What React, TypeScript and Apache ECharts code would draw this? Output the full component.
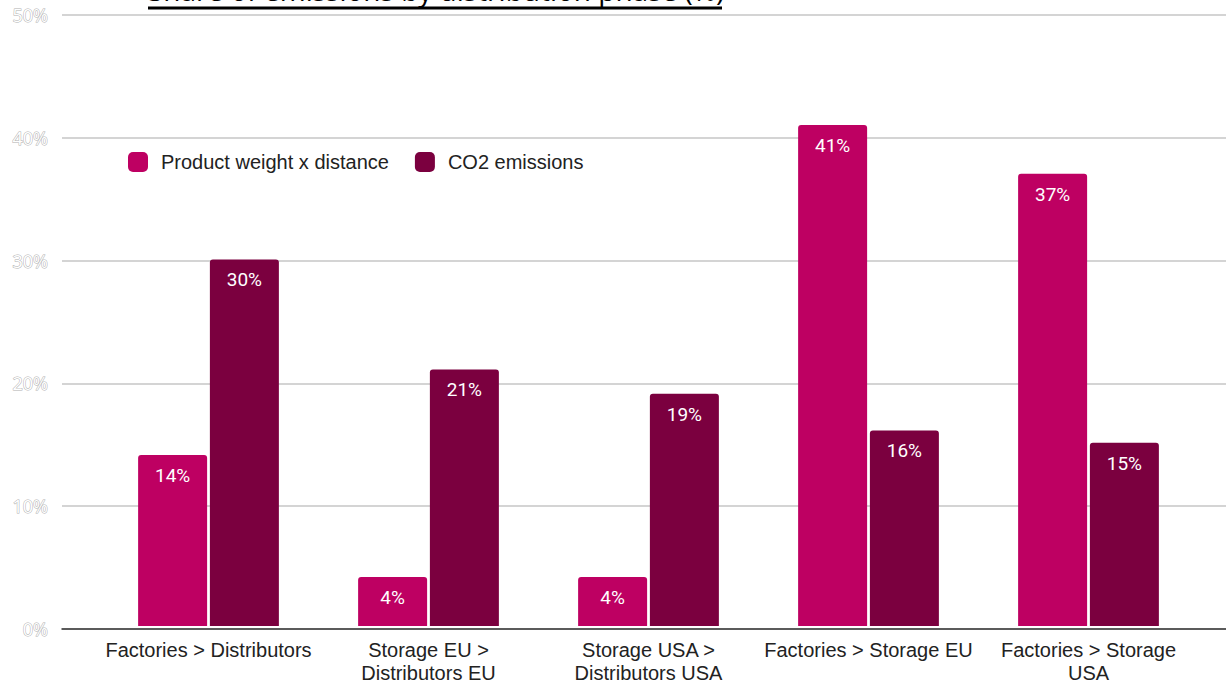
import React, { useEffect, useRef } from "react";
import * as echarts from "echarts";

const categories = [
  "Factories > Distributors",
  "Storage EU >\nDistributors EU",
  "Storage USA >\nDistributors USA",
  "Factories > Storage EU",
  "Factories > Storage\nUSA",
];
const weightDistance = [14, 4, 4, 41, 37];
const co2Emissions = [30, 21, 19, 16, 15];
const seriesNames = ["Product weight x distance", "CO2 emissions"];
const titleText = "Share of emissions by distribution phase (%)";

export default function App() {
  const ref = useRef<HTMLDivElement>(null);
  useEffect(() => {
    if (!ref.current) return;
    const chart = echarts.init(ref.current, undefined, { renderer: "svg" });
    const labelStyle = {
      show: true,
      position: "insideTop" as const,
      distance: 11,
      color: "#ffffff",
      fontFamily: "Roboto",
      fontSize: 19,
      formatter: "{c}%",
    };
    chart.setOption({
      animation: false,
      backgroundColor: "#ffffff",
      grid: [
        { left: 62, right: 0, top: 15, bottom: 55 },
        { left: 98.5, width: 1100, top: 15, bottom: 55 },
      ],
      legend: {
        left: 123,
        top: 147,
        itemWidth: 20,
        itemHeight: 20,
        itemGap: 26,
        icon: "roundRect",
        textStyle: {
          fontFamily: "Liberation Sans",
          fontSize: 20,
          color: "#222",
          padding: [0, 0, 0, 8],
        },
        data: seriesNames,
      },
      xAxis: [
        {
          type: "value",
          gridIndex: 0,
          min: 0,
          max: 1,
          axisLine: { show: true, onZero: true, lineStyle: { color: "#333", width: 1.5 } },
          axisTick: { show: false },
          axisLabel: { show: false },
          splitLine: { show: false },
        },
        {
          type: "category",
          gridIndex: 1,
          data: categories,
          axisLine: { show: false },
          axisTick: { show: false },
          axisLabel: {
            margin: 12,
            fontFamily: "Liberation Sans",
            fontSize: 20,
            color: "#222",
            lineHeight: 23,
            interval: 0,
          },
        },
      ],
      yAxis: [
        {
          type: "value",
          gridIndex: 0,
          min: 0,
          max: 50,
          interval: 10,
          axisLine: { show: false },
          axisTick: { show: false },
          axisLabel: {
            formatter: "{value}%",
            margin: 14,
            fontFamily: "Open Sans",
            fontSize: 18,
            color: "#ffffff",
            textBorderColor: "#b0b0b0",
            textBorderWidth: 1,
          },
          splitLine: { show: true, lineStyle: { color: "#c6c6c6", width: 1.5 } },
        },
        {
          type: "value",
          gridIndex: 1,
          min: 0,
          max: 50,
          interval: 10,
          show: false,
          splitLine: { show: false },
        },
      ],
      series: [
        {
          name: seriesNames[0],
          type: "bar",
          xAxisIndex: 1,
          yAxisIndex: 1,
          data: weightDistance,
          barWidth: 69,
          barGap: "4%",
          itemStyle: { color: "#be0062", borderRadius: [3, 3, 0, 0] },
          label: labelStyle,
        },
        {
          name: seriesNames[1],
          type: "bar",
          xAxisIndex: 1,
          yAxisIndex: 1,
          data: co2Emissions,
          barWidth: 69,
          barGap: "4%",
          itemStyle: { color: "#7b003f", borderRadius: [3, 3, 0, 0] },
          label: labelStyle,
        },
      ],
      graphic: [
        {
          type: "text",
          left: 148,
          top: -24,
          style: {
            text: titleText,
            fontFamily: "Open Sans",
            fontSize: 28,
            fill: "#000",
          },
        },
        {
          type: "rect",
          shape: { x: 148, y: 6.5, width: 574, height: 3 },
          style: { fill: "#000" },
        },
      ],
    });
    return () => chart.dispose();
  }, []);
  return (
    <div
      ref={ref}
      style={{ position: "absolute", left: 0, top: 0, width: 1226, height: 684 }}
    />
  );
}
